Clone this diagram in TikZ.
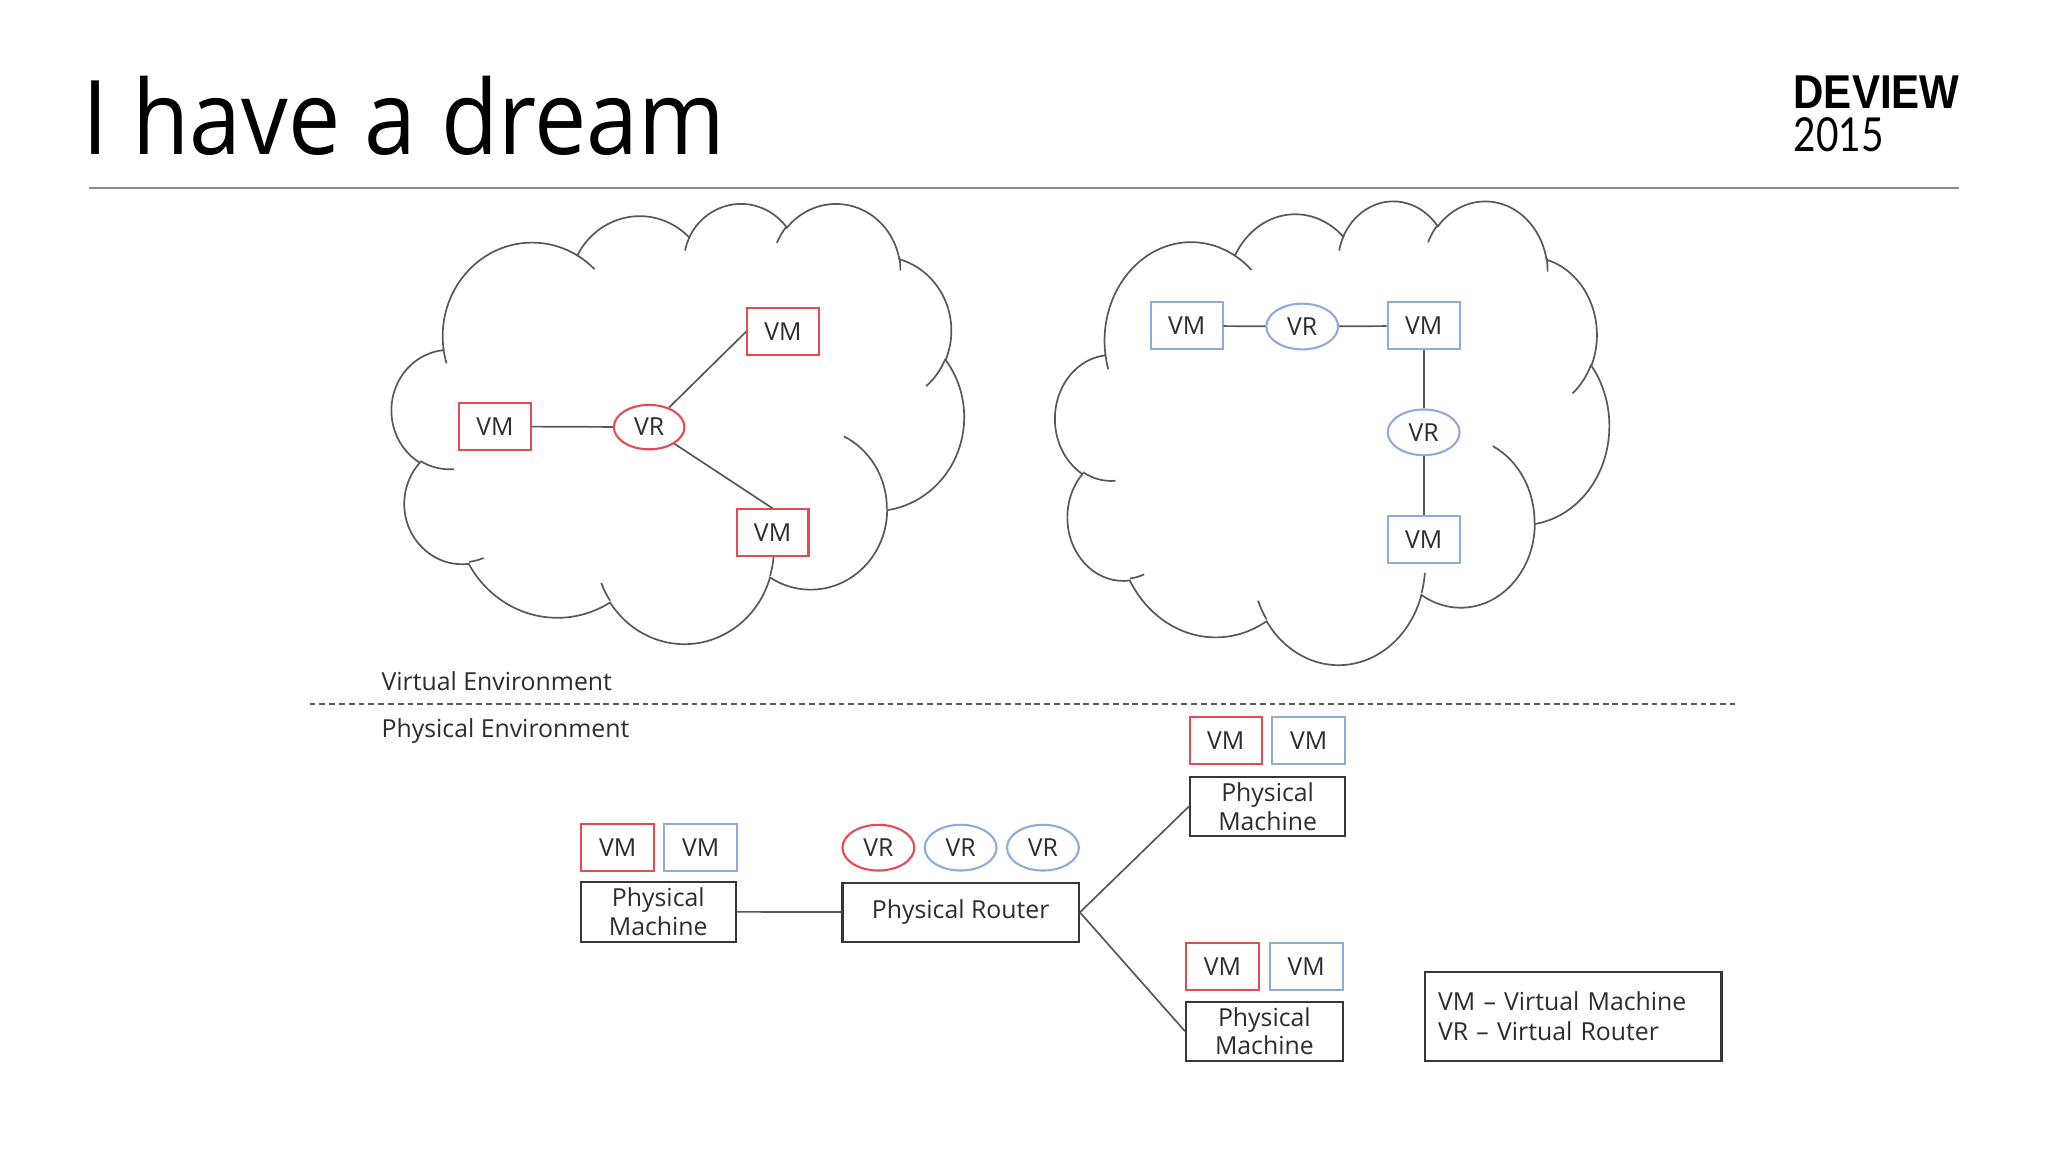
\documentclass[tikz,border=0pt]{standalone}
\usepackage{fontspec}
\usepackage{graphicx}
\setmainfont{Open Sans}
\newfontfamily\titlefont{Open Sans}
\newfontfamily\logofont{Liberation Sans}
\newfontfamily\yearfont{Lato}
\usetikzlibrary{shapes.geometric}
\definecolor{vmred}{RGB}{232,74,82}
\definecolor{vmblue}{RGB}{143,170,220}
\definecolor{cloudline}{RGB}{88,88,88}
\definecolor{boxline}{RGB}{55,55,55}
\definecolor{txt}{RGB}{45,45,45}
\definecolor{rulegray}{RGB}{140,140,140}
% one arc of the cloud outline: x radius, y radius, visual start angle, sweep
\newcommand\cl[4]{arc[x radius=#1, y radius=#2, start angle={atan2(#1*sin(#3),#2*cos(#3))}, delta angle={mod(atan2(#1*sin(#3+#4),#2*cos(#3+#4))-atan2(#1*sin(#3),#2*cos(#3))+720,360)}]}
\newcommand\cloudouter{(390,1437) \cl{675.3}{919.0}{-190.4875}{123.7805} \cl{533.3}{726.7}{-144.1024}{89.9452} \cl{436.5}{594.5}{-145.8079}{99.7230} \cl{485.7}{659.5}{-130.9861}{117.2417} \cl{533.3}{727.3}{-78.7089}{109.0269} \cl{677.5}{922.0}{-46.2673}{130.2690} \cl{578.5}{786.7}{0.6250}{114.0333} \cl{675.2}{921.5}{22.4516}{115.1726} \cl{772.0}{1054.3}{66.2426}{75.7110} \cl{436.0}{591.8}{-274.9421}{146.7356} \cl{434.5}{594.5}{-246.8285}{152.5189} -- cycle}
\newcommand\cloudinner{(469.3,2617.7) \cl{434.5}{594.5}{86.742}{26.4295} (692.8,3489.9) \cl{436.0}{591.8}{73.6105}{11.4475} (1647.8,3909.0) \cl{675.2}{921.5}{137.6242}{14.0811} (2882.7,3475.1) \cl{675.2}{921.5}{6.4533}{15.9984} (3412.9,2295.4) \cl{578.5}{786.7}{-70.2924}{70.9174} (4179.8,1535.4) \cl{533.3}{727.3}{30.3180}{27.7515} (3832.4,542.6) \cl{485.7}{659.5}{-13.7443}{14.8589} (2907.8,395.2) \cl{485.7}{659.5}{-149.1815}{18.1954} (2214.1,472.0) \cl{436.5}{594.5}{-163.4943}{17.6864} (1400.0,519.2) \cl{675.3}{919.0}{-66.7070}{12.3194} (412.7,1578.9) \cl{675.3}{919.0}{157.6544}{11.8582}}
\tikzset{
  cloudline/.style={draw=cloudline, line width=1.3pt},
  lbl/.style={font=\fontsize{19}{22}\selectfont, text=txt},
  vm/.style={lbl, rectangle, line width=1.6pt, fill=white, minimum width=55pt, minimum height=36pt, inner sep=0pt},
  vr/.style={lbl, ellipse, line width=1.6pt, fill=white, minimum width=55pt, minimum height=35pt, inner sep=0pt},
  pmbox/.style={lbl, rectangle, draw=boxline, line width=1.6pt, fill=white, minimum width=119pt, minimum height=45pt, inner sep=0pt, align=center},
  link/.style={draw=cloudline, line width=1.3pt},
}
\begin{document}
\begin{tikzpicture}[x=1pt, y=-1pt]
\fill[white] (0,0) rectangle (1568,882);
\useasboundingbox (0,0) rectangle (1568,882);
% title area
\node[anchor=base west, inner sep=0pt] (title) at (63,118) {\resizebox{492pt}{60pt}{\titlefont I have a dream}};
\node[anchor=base west, inner sep=0pt] (logo) at (1373,83) {\resizebox{127pt}{25pt}{\logofont\bfseries DEVIEW}};
\node[anchor=base west, inner sep=0pt] (year) at (1373,116) {\resizebox{69pt}{26pt}{\yearfont 2015}};
\coordinate (ruleL) at (68,144);
\coordinate (ruleR) at (1500,144);
\draw[rulegray, line width=1.5pt] (ruleL) -- (ruleR);
% clouds
\begin{scope}[shift={(300,155)}, x=0.101389pt, y=-0.078009pt]
  \draw[cloudline, fill=white] \cloudouter;
  \draw[cloudline] \cloudinner;
\end{scope}
\begin{scope}[shift={(808,153)}, x=0.098148pt, y=-0.082176pt]
  \draw[cloudline, fill=white] \cloudouter;
  \draw[cloudline] \cloudinner;
\end{scope}
% cloud 1
\node[vm, draw=vmred] (c1a) at (599.5,254) {VM};
\node[vm, draw=vmred] (c1b) at (379,326.5) {VM};
\node[vr, draw=vmred, minimum width=54pt, minimum height=34pt] (c1r) at (497,327) {VR};
\node[vm, draw=vmred] (c1c) at (591.5,408) {VM};
\draw[link] (c1b) -- (c1r);
\draw[link] (c1r) -- (c1a.west);
\draw[link] (c1r) -- (c1c.north);
% cloud 2
\node[vm, draw=vmblue] (c2a) at (908.5,249.5) {VM};
\node[vr, draw=vmblue] (c2r1) at (997,250) {VR};
\node[vm, draw=vmblue] (c2b) at (1090,249.5) {VM};
\node[vr, draw=vmblue] (c2r2) at (1090,331) {VR};
\node[vm, draw=vmblue] (c2c) at (1090,413) {VM};
\draw[link] (c2a) -- (c2r1);
\draw[link] (c2r1) -- (c2b);
\draw[link] (c2b) -- (c2r2);
\draw[link] (c2r2) -- (c2c);
% separator
\node[lbl, anchor=base west, inner sep=0pt] (virt) at (292,529) {Virtual Environment};
\node[lbl, anchor=base west, inner sep=0pt] (phys) at (292,565) {Physical Environment};
\coordinate (sepL) at (237,539);
\coordinate (sepR) at (1328,539);
\draw[cloudline, line width=1.3pt, dash pattern=on 4.5pt off 3pt] (sepL) -- (sepR);
% physical layer
\node[vm, draw=vmred, minimum width=56pt] (vm1r) at (473,649) {VM};
\node[vm, draw=vmblue, minimum width=56pt] (vm1b) at (536.5,649) {VM};
\node[pmbox, minimum height=46pt] (pm1) at (504,698) {Physical\\Machine};
\node[vr, draw=vmred] (vr1) at (672.5,649) {VR};
\node[vr, draw=vmblue] (vr2) at (735.5,649) {VR};
\node[vr, draw=vmblue] (vr3) at (798.5,649) {VR};
\node[pmbox, minimum width=181pt] (router) at (735.5,698.5) {Physical Router};
\node[vm, draw=vmred] (vm2r) at (938.5,567) {VM};
\node[vm, draw=vmblue, minimum width=56pt] (vm2b) at (1002,567) {VM};
\node[pmbox] (pm2) at (970.5,617.5) {Physical\\Machine};
\node[vm, draw=vmred, minimum width=56pt] (vm3r) at (936,740) {VM};
\node[vm, draw=vmblue, minimum width=56pt] (vm3b) at (1000,740) {VM};
\node[pmbox, minimum width=120pt] (pm3) at (968,789.5) {Physical\\Machine};
\draw[link] (pm1) -- (router);
\draw[link] (router.east) -- (pm2.west);
\draw[link] (router.east) -- (pm3.west);
% legend
\node[lbl, rectangle, draw=boxline, line width=1.6pt, text width=207pt, inner xsep=10pt, inner ysep=0pt, minimum height=68pt, align=left, font=\fontsize{19}{23}\selectfont] (legend) at (1204.5,778) {VM -- Virtual Machine\\VR -- Virtual Router};
\end{tikzpicture}
\end{document}
